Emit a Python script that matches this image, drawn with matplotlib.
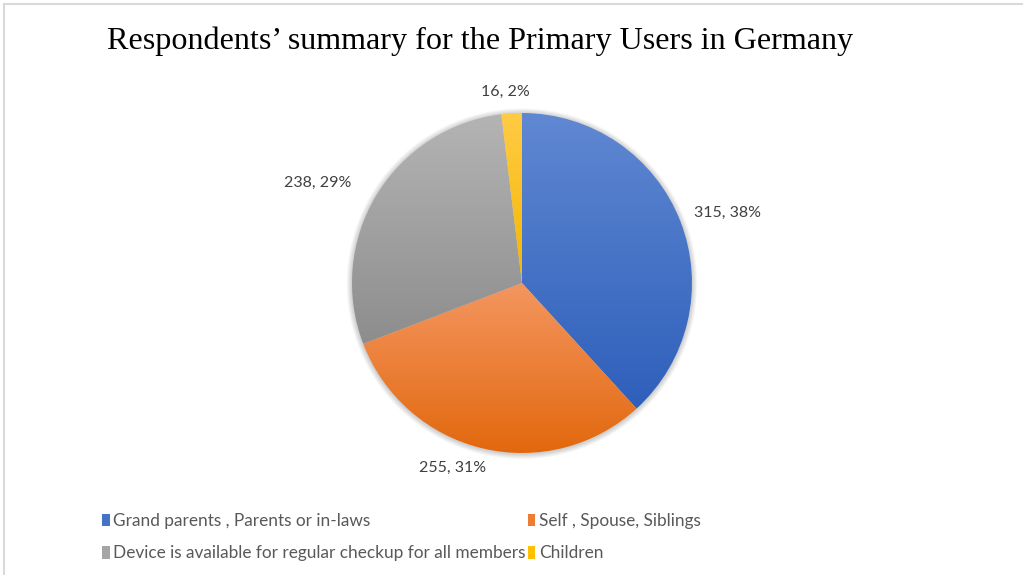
import numpy as np
import matplotlib
matplotlib.use("Agg")
import matplotlib.pyplot as plt
from matplotlib.colors import LinearSegmentedColormap
from matplotlib.patches import Patch, Circle
from matplotlib.lines import Line2D

# survey counts for the primary users
categories = ["Grand parents , Parents or in-laws", "Self , Spouse, Siblings",
              "Device is available for regular checkup for all members", "Children"]
counts = [315, 255, 238, 16]
pct_labels = ["38%", "31%", "29%", "2%"]

# gradient colours per slice (top -> bottom)
top_colors = ["#6088D2", "#F49660", "#B4B4B4", "#FFCB45"]
bottom_colors = ["#2E5FBB", "#E2680E", "#8D8D8D", "#F3B700"]
legend_colors = ["#4472C4", "#ED7D31", "#A5A5A5", "#FFC000"]

# where the data labels sit: radial factor and angle nudge (deg)
label_dist = [1.28, 1.16, 1.34, 1.13]
label_nudge = [-2.4, -7.4, 5.0, 1.5]

fig = plt.figure(figsize=(10.23, 5.75), dpi=100)
ax = fig.add_axes([0.261, 0.0643, 0.4985, 0.887])

wedges, _ = ax.pie(counts, startangle=90, counterclock=False, radius=1.0,
                   wedgeprops=dict(linewidth=0))

# soft shadow behind the pie
for k in range(8):
    ax.add_patch(Circle((0, -0.004), 1.0 + 0.004 * (k + 1), facecolor="#000000",
                        alpha=0.025, edgecolor="none", zorder=0))

# vertical gradient fill clipped to each wedge
grad = np.linspace(0, 1, 256).reshape(-1, 1)
for w, c0, c1 in zip(wedges, top_colors, bottom_colors):
    w.set_facecolor("none")
    w.set_zorder(2)
    th = np.radians(np.linspace(w.theta1, w.theta2, 200))
    xs = np.concatenate([[0], np.cos(th)])
    ys = np.concatenate([[0], np.sin(th)])
    cmap = LinearSegmentedColormap.from_list("g", [c1, c0])
    im = ax.imshow(grad, cmap=cmap, origin="lower", aspect="auto",
                   extent=[xs.min(), xs.max(), ys.min(), ys.max()],
                   zorder=1, interpolation="bilinear")
    im.set_clip_path(w)

# data labels "count, pct"
for w, n, p, d, nd in zip(wedges, counts, pct_labels, label_dist, label_nudge):
    ang = np.radians((w.theta1 + w.theta2) / 2 + nd)
    ax.text(d * np.cos(ang), d * np.sin(ang), f"{n}, {p}", ha="center", va="center",
            fontsize=11.5, color="#404040", family="Lato")

ax.set_xlim(-1.5, 1.5)
ax.set_ylim(-1.5, 1.5)
ax.set_aspect("equal")
ax.axis("off")

fig.text(0.1045, 0.914, "Respondents\u2019 summary for the Primary Users in Germany",
         family="Liberation Serif", fontsize=23.1, color="#000000", va="baseline")

# legend fills column by column, so order entries to read row by row
order = [0, 2, 1, 3]
handles = [Patch(facecolor=legend_colors[i], edgecolor="none") for i in order]
fig.legend(handles, [categories[i] for i in order], ncol=2, loc="upper left",
           bbox_to_anchor=(0.1, 0.108), frameon=False, borderpad=0, borderaxespad=0,
           handlelength=0.45, handleheight=0.75, handletextpad=0.2, columnspacing=0.1,
           labelspacing=0.95, prop=dict(family="Lato", size=12.4), labelcolor="#595959")

# chart border (top and left edges)
fig.add_artist(Line2D([4 / 1023, 1.0], [1 - 4 / 575, 1 - 4 / 575], color="#D9D9D9", lw=1.5))
fig.add_artist(Line2D([4 / 1023, 4 / 1023], [0, 1 - 4 / 575], color="#D9D9D9", lw=1.5))

fig.savefig("out.png", dpi=100, facecolor="white")
